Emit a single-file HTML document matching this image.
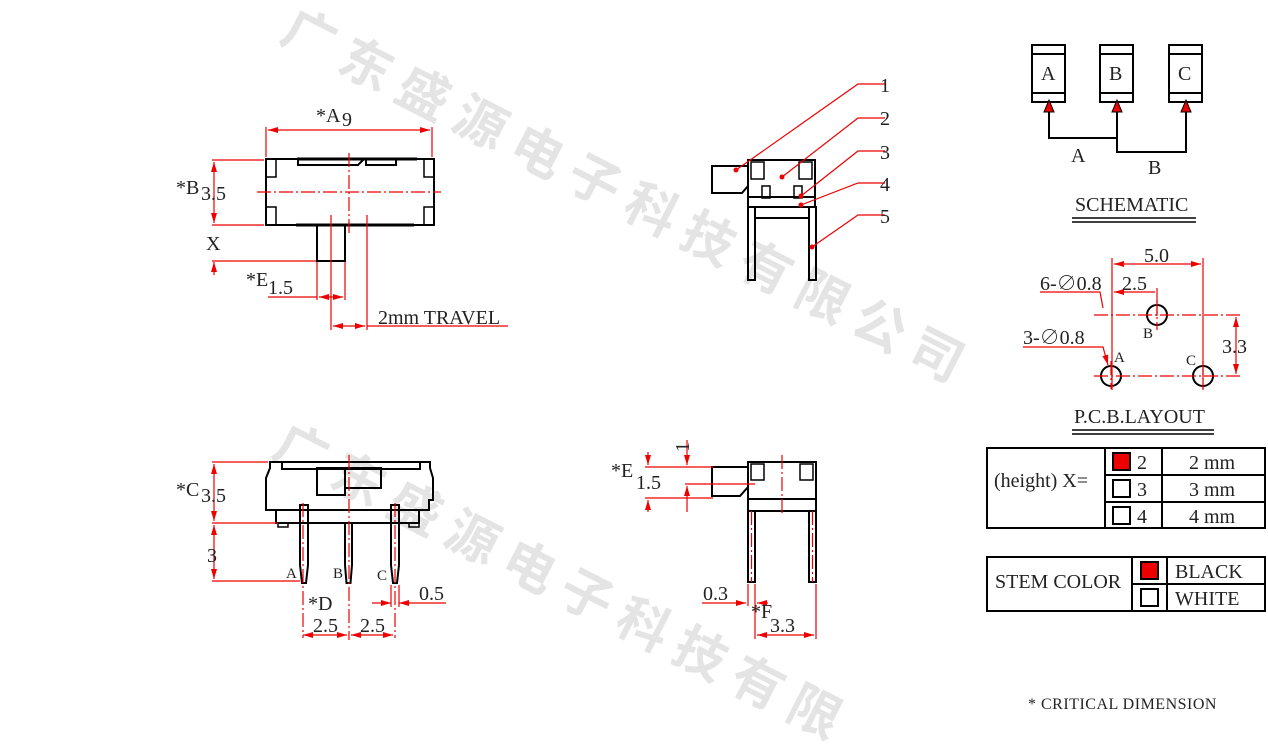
<!DOCTYPE html>
<html><head><meta charset="utf-8"><style>
html,body{margin:0;padding:0;background:#fff;width:1268px;height:744px;overflow:hidden}
svg{display:block}
text{font-family:"Liberation Serif","Noto Serif CJK SC",serif;fill:#222}
.wm{font-family:"Noto Sans CJK SC",sans-serif;font-weight:bold;fill:#e4e4e4;font-size:52px;letter-spacing:12px}
</style></head><body>
<svg width="1268" height="744" viewBox="0 0 1268 744" xmlns="http://www.w3.org/2000/svg" style="position:absolute;left:0;top:0">
<defs>
<marker id="ar" viewBox="0 0 10 6" refX="10" refY="3" markerWidth="10" markerHeight="6" orient="auto-start-reverse" markerUnits="userSpaceOnUse"><path d="M0,0L10,3L0,6z" fill="#e00"/></marker>
<clipPath id="cp"><rect x="0" y="0" width="1268" height="744"/></clipPath>
</defs>
<g clip-path="url(#cp)">
<text class="wm" transform="translate(278,40) rotate(27)">广东盛源电子科技有限公司</text>
<text class="wm" transform="translate(270,455) rotate(27)">广东盛源电子科技有限</text>
</g>

<g fill="none" stroke="#000" stroke-width="2">
<rect x="266" y="159" width="168" height="66"/>
<rect x="317" y="225" width="28" height="36"/>
<path d="M297 159h120M296 225h118" stroke-width="3"/>
<path d="M298 159v6h60l6-6M366 159v6h30v-6"/>
<rect x="266" y="159" width="10" height="18" stroke-width="1.5"/><rect x="424" y="159" width="10" height="18" stroke-width="1.5"/>
<rect x="266" y="207" width="10" height="18" stroke-width="1.5"/><rect x="424" y="207" width="10" height="18" stroke-width="1.5"/>
<path d="M270 462h160v6l3 10v22h-4v10h-10v13H276v-13h-10v-10h0v-22l4-10z"/>
<path d="M282 462v7h138v-7"/>
<rect x="317" y="468" width="28" height="27"/><rect x="345" y="468" width="36" height="20"/>
<path d="M276 510h152"/>
<path d="M300 505h8v60l-2 18h-4l-2-18z"/>
<path d="M345 523h7v42l-1.5 18h-4l-1.5-18z"/>
<path d="M391 505h8v60l-2 18h-4l-2-18z"/>
<rect x="278" y="523" width="10" height="4" stroke-width="1.5"/><rect x="409" y="523" width="10" height="4" stroke-width="1.5"/>
<path d="M712 166h36v20l-6 7h-30z"/>
<rect x="748" y="160" width="67" height="47"/>
<path d="M748 197h67"/>
<rect x="751" y="162" width="13" height="17" stroke-width="1.5"/><rect x="799" y="162" width="13" height="17" stroke-width="1.5"/>
<rect x="762" y="186" width="8" height="12" stroke-width="1.5"/><rect x="794" y="186" width="8" height="12" stroke-width="1.5"/>
<rect x="748" y="207" width="7" height="73"/><rect x="809" y="207" width="7" height="73"/>
<path d="M755 218h54"/>
<path d="M712 467h36v20l-8 9h-28z"/>
<rect x="748" y="462" width="68" height="37"/>
<rect x="751" y="464" width="13" height="16" stroke-width="1.5"/><rect x="800" y="464" width="13" height="16" stroke-width="1.5"/>
<rect x="748" y="511" width="7" height="71"/><rect x="809" y="511" width="7" height="71"/>
<path d="M748 499v12M816 499v12M755 511h54"/>
<rect x="1032" y="45" width="33" height="57"/><rect x="1100" y="45" width="33" height="57"/><rect x="1169" y="45" width="33" height="57"/>
<path d="M1032 54h33M1032 93h33M1100 54h33M1100 93h33M1169 54h33M1169 93h33"/>
<path d="M1049 112v26h68M1117 112v40h69v-40"/>
<circle cx="1157" cy="315" r="10"/><circle cx="1111" cy="376" r="10"/><circle cx="1203" cy="376" r="10"/>
<rect x="987" y="448" width="278" height="80"/>
<path d="M1105 448v80M1162 448v80M1105 475h160M1105 502h160"/>
<rect x="1113" y="453" width="17" height="17" fill="#e00"/><rect x="1113" y="480" width="17" height="17"/><rect x="1113" y="507" width="17" height="17"/>
<rect x="987" y="557" width="278" height="54"/>
<path d="M1132 557v54M1167 557v54M1132 584h133"/>
<rect x="1141" y="562" width="17" height="17" fill="#e00"/><rect x="1141" y="589" width="17" height="17"/>
<path d="M1072 218h124M1072 222h124M1072 430h142M1072 434h142" stroke-width="1.5"/>
</g>
<g fill="#e00" stroke="#000" stroke-width="1"><path d="M1044 112l5-12 5 12z"/><path d="M1112 112l5-12 5 12z"/><path d="M1181 112l5-12 5 12z"/></g>

<g fill="none" stroke="#e00" stroke-width="1.2">
<path d="M266 127v30M432 127v30"/><path d="M268 130h162" marker-start="url(#ar)" marker-end="url(#ar)"/>
<path d="M212 160h52M212 225h52"/><path d="M214 162v61" marker-start="url(#ar)" marker-end="url(#ar)"/>
<path d="M212 261h104"/><path d="M214 275v-13" marker-end="url(#ar)"/>
<path d="M317 262v38M345 262v38"/><path d="M268 297h49"/><path d="M319 297h24" marker-start="url(#ar)" marker-end="url(#ar)"/>
<path d="M331 215v115M367 215v115"/><path d="M333 326h32" marker-start="url(#ar)" marker-end="url(#ar)"/><path d="M367 326h141"/>
<path d="M257 192h184M349 153v80" stroke-dasharray="14 3 2 3"/>
<path d="M212 462h56M212 523h66M212 581h88"/>
<path d="M214 464v57" marker-start="url(#ar)" marker-end="url(#ar)"/><path d="M214 525v54" marker-start="url(#ar)" marker-end="url(#ar)"/>
<path d="M349 455v185M303 503v135M395 503v135" stroke-dasharray="14 3 2 3"/>
<path d="M303 635h44" marker-start="url(#ar)" marker-end="url(#ar)"/><path d="M351 635h42" marker-start="url(#ar)" marker-end="url(#ar)"/>
<path d="M391 585v22M399 585v22"/><path d="M372 603h19" marker-end="url(#ar)"/><path d="M446 603h-47" marker-end="url(#ar)"/>
<path d="M736 170l122-86h27M782 177l76-59h27M801 196l57-45h27M801 205l57-22h27M812 247l46-32h27"/>
<path d="M645 467h68M685 484h28M645 498h68M705 484h50" />
<path d="M648 452v13" marker-end="url(#ar)"/><path d="M648 512v-12" marker-end="url(#ar)"/>
<path d="M687 440v25" marker-end="url(#ar)"/><path d="M687 512v-26" marker-end="url(#ar)"/>
<path d="M782 455v60M751.5 511v71M812.5 511v71" stroke-dasharray="14 3 2 3"/>
<path d="M748 584v22M755 584v55M816 584v55"/>
<path d="M702 603h44" marker-end="url(#ar)"/><path d="M768 603h-11" marker-end="url(#ar)"/>
<path d="M757 635h57" marker-start="url(#ar)" marker-end="url(#ar)"/>
<path d="M1112 258v132M1203 258v132"/>
<path d="M1114 264h87" marker-start="url(#ar)" marker-end="url(#ar)"/>
<path d="M1114 292h41" marker-start="url(#ar)"/><path d="M1157 288v28"/>
<path d="M1094 315h146M1094 376h146M1157 300v30M1111 361v28M1203 361v28" stroke-dasharray="14 3 2 3"/>
<path d="M1236 317v57" marker-start="url(#ar)" marker-end="url(#ar)"/>
<path d="M1040 292h60l3 16" /><path d="M1023 347h80l5 18" marker-end="url(#ar)"/>
</g>
<g fill="#e00"><circle cx="736" cy="170" r="2.5"/><circle cx="782" cy="177" r="2.5"/><circle cx="801" cy="196" r="2.5"/><circle cx="801" cy="205" r="2.5"/><circle cx="812" cy="247" r="2.5"/></g>

<g font-size="20">
<text x="316" y="122">*A</text><text x="342" y="126">9</text>
<text x="176" y="194">*B</text><text x="201" y="200">3.5</text>
<text x="206" y="250">X</text>
<text x="246" y="286">*E</text><text x="268" y="294">1.5</text>
<text x="378" y="324">2mm TRAVEL</text>
<text x="176" y="496">*C</text><text x="201" y="502">3.5</text>
<text x="207" y="562">3</text>
<text x="286" y="578" font-size="15">A</text><text x="333" y="578" font-size="15">B</text><text x="377" y="580" font-size="15">C</text>
<text x="308" y="610">*D</text>
<text x="313" y="632">2.5</text><text x="360" y="632">2.5</text>
<text x="419" y="600">0.5</text>
<text x="880" y="92">1</text><text x="880" y="125">2</text><text x="880" y="159">3</text><text x="880" y="191">4</text><text x="880" y="223">5</text>
<text x="677" y="452" transform="rotate(-90 683 446)">1</text>
<text x="611" y="477">*E</text><text x="636" y="489">1.5</text>
<text x="703" y="600">0.3</text>
<text x="751" y="618">*F</text><text x="770" y="632">3.3</text>
<text x="1041" y="80">A</text><text x="1109" y="80">B</text><text x="1178" y="80">C</text>
<text x="1071" y="162">A</text><text x="1148" y="174">B</text>
<text x="1075" y="211">SCHEMATIC</text>
<text x="1144" y="262">5.0</text><text x="1122" y="290">2.5</text>
<text x="1040" y="290">6-∅0.8</text><text x="1023" y="344">3-∅0.8</text>
<text x="1143" y="338" font-size="15">B</text><text x="1114" y="362" font-size="15">A</text><text x="1186" y="365" font-size="15">C</text>
<text x="1222" y="353">3.3</text>
<text x="1074" y="423">P.C.B.LAYOUT</text>
<text x="994" y="487">(height)  X=</text>
<text x="1137" y="469">2</text><text x="1137" y="496">3</text><text x="1137" y="523">4</text>
<text x="1189" y="469">2 mm</text><text x="1189" y="496">3 mm</text><text x="1189" y="523">4 mm</text>
<text x="995" y="588">STEM COLOR</text>
<text x="1175" y="578">BLACK</text><text x="1175" y="605">WHITE</text>
<text x="1028" y="709" font-size="16" letter-spacing="0.5">* CRITICAL  DIMENSION</text>
</g>
</svg>
</body></html>
